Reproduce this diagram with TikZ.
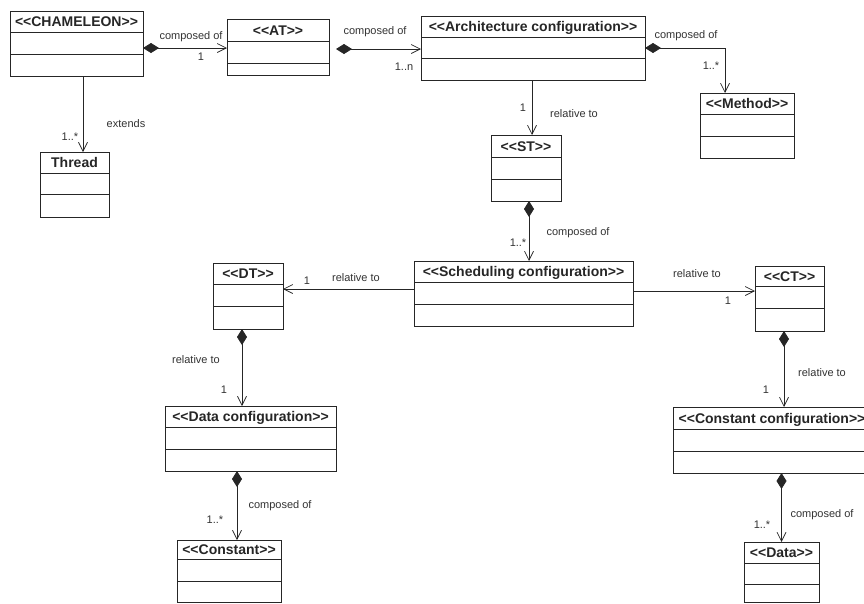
\documentclass[tikz,border=0pt]{standalone}
\usepackage{fontspec}
\setmainfont{Liberation Sans}[Ligatures=TeXOff]
\usetikzlibrary{arrows.meta,calc}
\tikzset{
  classbox/.style={draw=black!85, line width=0.9pt, inner sep=0pt, outer sep=0pt, anchor=north west},
  compline/.style={draw=black!85, line width=0.9pt},
  ctitle/.style={font=\fontsize{14}{16}\selectfont\bfseries, inner sep=0pt, text=black!85, anchor=base},
  lbl/.style={font=\fontsize{11}{13}\selectfont, inner sep=0pt, text=black!80},
  assoc/.style={line width=0.8pt, draw=black!85, -{Straight Barb[length=9pt,width=9pt,line width=0.7pt]}},
  comp/.style={line width=0.8pt, draw=black!85, {Diamond[length=16pt,width=10pt]}-{Straight Barb[length=9pt,width=9pt,line width=0.7pt]}},
}
% name, x1, y1, x2, y2, title, line1, line2
\newcommand\umlclass[8]{%
  \node[classbox, minimum width={#4-#2}, minimum height={#5-#3}] (#1) at (#2,#3) {};
  \draw[compline] (#2,#7) -- (#4,#7);
  \draw[compline] (#2,#8) -- (#4,#8);
  \node[ctitle] (#1-t) at ({(#2+#4)/2},{(#3+#7)/2+5}) {#6};
}
\begin{document}
\begin{tikzpicture}[x=1pt,y=-1pt]
\clip (0,0) rectangle (864,603);
\fill[white] (0,0) rectangle (864,603);

\umlclass{cham}{10}{11}{143}{76}{<<CHAMELEON>>}{32}{54}
\umlclass{at}{227}{19}{329}{75}{<<AT>>}{41}{63}
\umlclass{arch}{421}{16}{645}{80}{<<Architecture configuration>>}{37}{58}
\umlclass{meth}{700}{93}{794}{158}{<<Method>>}{114}{136}
\umlclass{thr}{40}{152}{109}{217}{Thread}{173}{194}
\umlclass{st}{491}{135}{561}{201}{<<ST>>}{157}{179}
\umlclass{sched}{414}{261}{633}{326}{<<Scheduling configuration>>}{282}{304}
\umlclass{dt}{213}{263}{283}{329}{<<DT>>}{284}{306}
\umlclass{ct}{755}{266}{824}{331}{<<CT>>}{286}{308}
\umlclass{dc}{165}{406}{336}{471}{<<Data configuration>>}{427}{449}
\umlclass{cc}{673}{407}{871}{473}{<<Constant configuration>>}{429}{451}
\umlclass{cons}{177}{540}{281}{602}{<<Constant>>}{559}{581}
\umlclass{data}{744}{542}{819}{602}{<<Data>>}{563}{584}

% connectors
\coordinate (c1) at ($(cham.east)+(0,4.5)$);
\draw[comp] (c1) -- (c1 -| at.west);
\coordinate (c2) at ($(at.east)+(7,2)$);
\draw[comp] (c2) -- (c2 -| arch.west);
\coordinate (c3) at ($(meth.north)+(-22,0)$);
\draw[comp] (arch.east) -| (c3);
\coordinate (c4) at ($(cham.south)+(6.5,0)$);
\draw[assoc] (c4) -- (c4 |- thr.north);
\coordinate (c5) at ($(st.north)+(6,0)$);
\draw[assoc] (c5 |- arch.south) -- (c5);
\coordinate (c6) at ($(st.south)+(3,0)$);
\draw[comp] (c6) -- (c6 |- sched.north);
\coordinate (c7) at ($(sched.west)+(0,-4.5)$);
\draw[assoc] (c7) -- (c7 -| dt.east);
\coordinate (c8) at ($(sched.east)+(0,-2.5)$);
\draw[assoc] (c8) -- (c8 -| ct.west);
\coordinate (c9) at ($(dt.south)+(-6,0)$);
\draw[comp] (c9) -- (c9 |- dc.north);
\coordinate (c10) at ($(ct.south)+(-5.5,0)$);
\draw[comp] (c10) -- (c10 |- cc.north);
\coordinate (c11) at ($(dc.south)+(-13.5,0)$);
\draw[comp] (c11) -- (c11 |- cons.north);
\draw[comp] (cc.south -| data.north) -- (data.north);

% labels
\node[lbl] (l1) at (191,37) {composed of};
\node[lbl] (l2) at (201,57) {1};
\node[lbl] (l3) at (126,124) {extends};
\node[lbl] (l4) at (70,137) {1..*};
\node[lbl] (l5) at (375,32) {composed of};
\node[lbl] (l6) at (404,67) {1..n};
\node[lbl] (l7) at (686,36) {composed of};
\node[lbl] (l8) at (711,66) {1..*};
\node[lbl] (l9) at (523,108) {1};
\node[lbl] (l10) at (574,114) {relative to};
\node[lbl] (l11) at (518,243) {1..*};
\node[lbl] (l12) at (578,233) {composed of};
\node[lbl] (l13) at (356,278) {relative to};
\node[lbl] (l14) at (307,281) {1};
\node[lbl] (l15) at (697,274) {relative to};
\node[lbl] (l16) at (728,301) {1};
\node[lbl] (l17) at (196,360) {relative to};
\node[lbl] (l18) at (224,390) {1};
\node[lbl] (l19) at (822,373) {relative to};
\node[lbl] (l20) at (766,390) {1};
\node[lbl] (l21) at (280,506) {composed of};
\node[lbl] (l22) at (215,520) {1..*};
\node[lbl] (l23) at (822,515) {composed of};
\node[lbl] (l24) at (762,525) {1..*};
\end{tikzpicture}
\end{document}
